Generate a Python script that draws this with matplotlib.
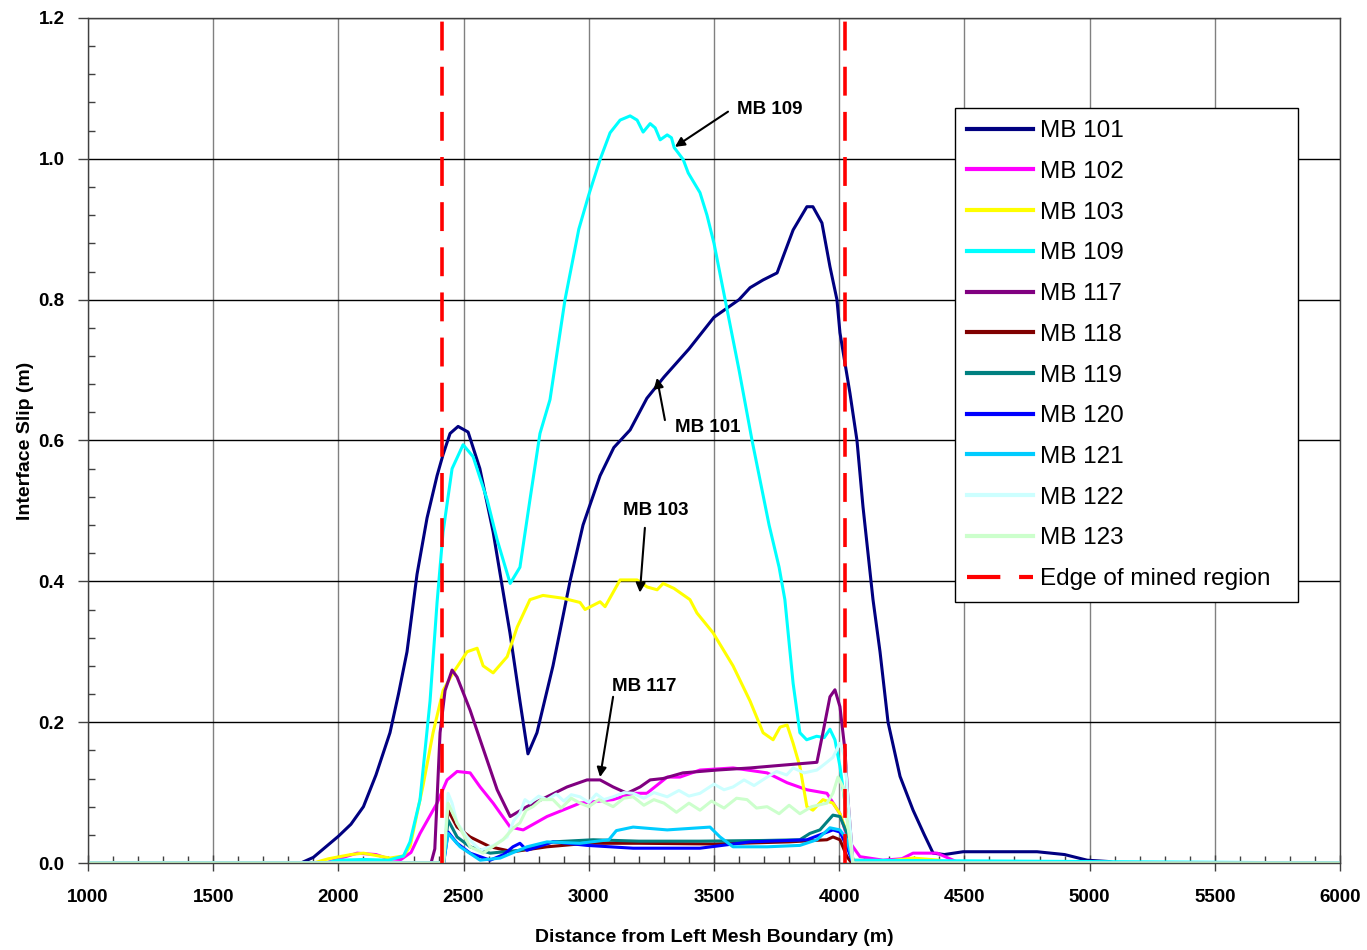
import matplotlib
matplotlib.use("Agg")
import matplotlib.pyplot as plt
from matplotlib.ticker import MultipleLocator

# ---------------- data ----------------
mb101_x = [1000, 1850, 1900, 1940, 2000, 2050, 2100, 2150, 2206, 2240, 2274, 2314, 2354, 2394, 2418, 2446, 2478,
           2518, 2565, 2618, 2685, 2725, 2757, 2793, 2857, 2925, 2977, 3045, 3100, 3165, 3232, 3300, 3400,
           3500, 3600, 3644, 3696, 3752, 3776, 3816, 3871, 3895, 3931, 3963, 3991, 4003, 4043, 4071, 4095,
           4135, 4163, 4195, 4243, 4295, 4340, 4375, 4420, 4495, 4790, 4900, 4990, 5080, 5100, 6000]
mb101_y = [0, 0, 0.008, 0.02, 0.038, 0.055, 0.08, 0.125, 0.185, 0.24, 0.30, 0.41, 0.49, 0.55, 0.58, 0.61, 0.62,
           0.612, 0.56, 0.47, 0.327, 0.23, 0.155, 0.185, 0.28, 0.40, 0.48, 0.55, 0.59, 0.615, 0.66, 0.69, 0.73,
           0.775, 0.80, 0.817, 0.828, 0.838, 0.861, 0.899, 0.932, 0.932, 0.909, 0.847, 0.80, 0.753, 0.667, 0.60, 0.506,
           0.374, 0.30, 0.20, 0.123, 0.075, 0.04, 0.014, 0.012, 0.016, 0.016, 0.012, 0.004, 0.002, 0, 0]

mb102_x = [1000, 1950, 2000, 2075, 2150, 2200, 2250, 2290, 2326, 2394, 2434, 2474, 2526, 2566, 2618, 2686,
           2738, 2833, 2965, 3097, 3177, 3232, 3313, 3364, 3444, 3576, 3712, 3792, 3871, 3951, 4003, 4035,
           4083, 4175, 4250, 4295, 4391, 4455, 4480, 6000]
mb102_y = [0, 0, 0.006, 0.014, 0.012, 0.006, 0.005, 0.015, 0.042, 0.085, 0.118, 0.13, 0.128, 0.108, 0.085, 0.051,
           0.047, 0.066, 0.085, 0.09, 0.099, 0.099, 0.122, 0.122, 0.132, 0.135, 0.128, 0.114, 0.104, 0.099, 0.07, 0.033,
           0.009, 0.004, 0.006, 0.014, 0.014, 0.004, 0, 0]

mb103_x = [1000, 1900, 1960, 2050, 2100, 2206, 2260, 2286, 2338, 2378, 2418, 2458, 2514, 2554, 2578, 2618,
           2674, 2714, 2765, 2817, 2897, 2965, 2985, 3045, 3065, 3125, 3193, 3233, 3273, 3297, 3340, 3404,
           3432, 3496, 3576, 3644, 3696, 3736, 3764, 3792, 3816, 3843, 3871, 3895, 3935, 3975, 4003, 4031,
           4055, 4200, 4295, 4400, 4430, 6000]
mb103_y = [0, 0, 0.006, 0.012, 0.014, 0.007, 0.01, 0.023, 0.11, 0.185, 0.245, 0.27, 0.30, 0.305, 0.28, 0.27,
           0.293, 0.335, 0.374, 0.38, 0.376, 0.37, 0.36, 0.371, 0.364, 0.402, 0.402, 0.392, 0.388, 0.397, 0.39, 0.374,
           0.355, 0.327, 0.28, 0.23, 0.185, 0.175, 0.193, 0.196, 0.17, 0.137, 0.08, 0.075, 0.09, 0.085, 0.07, 0.042,
           0.004, 0.003, 0.007, 0.004, 0, 0]

mb109_x = [1000, 1950, 2000, 2100, 2200, 2260, 2286, 2326, 2366, 2394, 2418, 2454, 2498, 2538, 2594, 2634,
           2686, 2725, 2765, 2805, 2845, 2905, 2960, 3000, 3045, 3085, 3125, 3165, 3193, 3217, 3245, 3265,
           3285, 3313, 3330, 3341, 3377, 3397, 3444, 3472, 3500, 3550, 3600, 3652, 3720, 3760, 3783, 3816,
           3843, 3870, 3910, 3940, 3963, 3983, 4003, 4031, 4055, 6000]
mb109_y = [0, 0, 0.004, 0.005, 0.004, 0.01, 0.03, 0.09, 0.23, 0.37, 0.47, 0.56, 0.594, 0.577, 0.516, 0.459,
           0.397, 0.42, 0.516, 0.61, 0.658, 0.80, 0.90, 0.949, 0.999, 1.037, 1.055, 1.061, 1.055, 1.038, 1.05, 1.044,
           1.027, 1.034, 1.03, 1.016, 0.999, 0.98, 0.952, 0.92, 0.88, 0.79, 0.70, 0.60, 0.48, 0.42, 0.374, 0.255,
           0.185, 0.175, 0.18, 0.178, 0.19, 0.175, 0.137, 0.066, 0.004, 0]

mb117_x = [1000, 2370, 2385, 2394, 2406, 2426, 2454, 2474, 2526, 2566, 2634, 2686, 2753, 2833, 2913, 2993,
           3045, 3097, 3153, 3205, 3245, 3297, 3376, 3512, 3644, 3776, 3911, 3935, 3963, 3983, 4003, 4023,
           4035, 4055, 6000]
mb117_y = [0, 0, 0.02, 0.09, 0.185, 0.245, 0.274, 0.264, 0.217, 0.175, 0.104, 0.066, 0.08, 0.094, 0.108, 0.118,
           0.118, 0.108, 0.099, 0.108, 0.118, 0.12, 0.128, 0.132, 0.135, 0.139, 0.143, 0.185, 0.236, 0.246, 0.222, 0.16,
           0.09, 0, 0]

mb118_x = [1000, 2420, 2438, 2474, 2526, 2606, 2697, 2833, 2993, 3200, 3500, 3800, 3951, 3975, 4003, 4031, 4050, 6000]
mb118_y = [0, 0, 0.075, 0.051, 0.037, 0.023, 0.016, 0.023, 0.028, 0.028, 0.027, 0.03, 0.033, 0.037, 0.033, 0.009, 0, 0]

mb119_x = [1000, 2420, 2438, 2474, 2526, 2606, 2725, 2857, 3017, 3200, 3444, 3700, 3843, 3883, 3923, 3975,
           4003, 4031, 4055, 6000]
mb119_y = [0, 0, 0.061, 0.037, 0.023, 0.014, 0.018, 0.03, 0.033, 0.031, 0.031, 0.032, 0.033, 0.042, 0.047, 0.068,
           0.066, 0.042, 0, 0]

mb120_x = [1000, 2420, 2438, 2474, 2526, 2606, 2660, 2697, 2725, 2753, 2857, 2993, 3177, 3444, 3644, 3871,
           3975, 4003, 4031, 4055, 6000]
mb120_y = [0, 0, 0.044, 0.028, 0.014, 0.004, 0.012, 0.023, 0.028, 0.018, 0.03, 0.025, 0.021, 0.021, 0.03, 0.033,
           0.047, 0.044, 0.023, 0, 0]

mb121_x = [1000, 2420, 2438, 2486, 2566, 2646, 2753, 2833, 2965, 3080, 3110, 3177, 3313, 3484, 3524, 3576,
           3712, 3843, 3911, 3963, 4003, 4031, 4055, 6000]
mb121_y = [0, 0, 0.042, 0.023, 0.004, 0.007, 0.023, 0.03, 0.028, 0.033, 0.046, 0.051, 0.047, 0.051, 0.037, 0.023,
           0.023, 0.025, 0.033, 0.05, 0.047, 0.033, 0, 0]

mb122_x = [1000, 2420, 2438, 2454, 2474, 2514, 2566, 2620, 2674, 2700, 2725, 2745, 2765, 2800, 2833, 2870,
           2900, 2930, 2965, 3000, 3030, 3060, 3097, 3140, 3177, 3220, 3260, 3313, 3360, 3400, 3444, 3500,
           3540, 3576, 3620, 3660, 3712, 3750, 3790, 3816, 3860, 3911, 3940, 3975, 4003, 4023, 4035, 4055, 6000]
mb122_y = [0, 0, 0.099, 0.085, 0.057, 0.037, 0.018, 0.025, 0.037, 0.06, 0.071, 0.09, 0.085, 0.095, 0.09, 0.098,
           0.088, 0.097, 0.094, 0.086, 0.098, 0.09, 0.094, 0.1, 0.099, 0.092, 0.1, 0.094, 0.103, 0.095, 0.099, 0.112,
           0.104, 0.108, 0.118, 0.11, 0.122, 0.13, 0.125, 0.135, 0.128, 0.132, 0.14, 0.15, 0.17, 0.15, 0.09, 0, 0]

mb123_x = [1000, 2420, 2438, 2474, 2526, 2578, 2657, 2700, 2725, 2750, 2777, 2810, 2857, 2890, 2930, 2965,
           3000, 3040, 3097, 3140, 3177, 3220, 3260, 3300, 3350, 3400, 3444, 3490, 3540, 3590, 3632, 3670,
           3712, 3760, 3800, 3843, 3890, 3951, 3975, 3995, 4015, 4035, 4055, 6000]
mb123_y = [0, 0, 0.085, 0.057, 0.023, 0.014, 0.033, 0.05, 0.057, 0.075, 0.08, 0.09, 0.09, 0.078, 0.092, 0.085,
           0.08, 0.09, 0.08, 0.092, 0.094, 0.082, 0.09, 0.085, 0.072, 0.085, 0.075, 0.088, 0.078, 0.092, 0.09, 0.078,
           0.08, 0.07, 0.082, 0.07, 0.08, 0.085, 0.099, 0.122, 0.108, 0.051, 0, 0]

edge_x = [2415, 4025]

series_labels = ["MB 101", "MB 102", "MB 103", "MB 109", "MB 117", "MB 118",
                 "MB 119", "MB 120", "MB 121", "MB 122", "MB 123"]
series_colors = ["#000080", "#FF00FF", "#FFFF00", "#00FFFF", "#800080", "#800000",
                 "#008080", "#0000FF", "#00CCFF", "#CCFFFF", "#CCFFCC"]
series_x = [mb101_x, mb102_x, mb103_x, mb109_x, mb117_x, mb118_x, mb119_x, mb120_x, mb121_x, mb122_x, mb123_x]
series_y = [mb101_y, mb102_y, mb103_y, mb109_y, mb117_y, mb118_y, mb119_y, mb120_y, mb121_y, mb122_y, mb123_y]

x_ticks = [1000, 1500, 2000, 2500, 3000, 3500, 4000, 4500, 5000, 5500, 6000]
y_ticks = [0.0, 0.2, 0.4, 0.6, 0.8, 1.0, 1.2]

# ---------------- plot ----------------
plt.rcParams['font.family'] = ['Liberation Sans', 'DejaVu Sans']

fig = plt.figure(figsize=(13.67, 9.5), dpi=100)
ax = fig.add_axes([88 / 1367, 1 - 863 / 950, (1340 - 88) / 1367, (863 - 18) / 950])

for xs, ys, lab, col in zip(series_x, series_y, series_labels, series_colors):
    ax.plot(xs, ys, color=col, lw=2.2, label=lab, solid_joinstyle='round')

for i, ex in enumerate(edge_x):
    ax.axvline(ex, color="#FF0000", lw=2.6, dashes=(8, 4.5),
               label="Edge of mined region" if i == 0 else None, zorder=5)

ax.set_xlim(1000, 6000)
ax.set_ylim(0, 1.2)
ax.set_xticks(x_ticks)
ax.set_yticks(y_ticks)
ax.set_xticklabels([str(v) for v in x_ticks])
ax.set_yticklabels([f"{v:.1f}" for v in y_ticks])
ax.xaxis.set_minor_locator(MultipleLocator(100))
ax.yaxis.set_minor_locator(MultipleLocator(0.04))

ax.grid(True, axis='x', which='major', color='#808080', lw=1.0)
ax.grid(True, axis='y', which='major', color='#000000', lw=1.0)
ax.set_axisbelow(True)

for s in ax.spines.values():
    s.set_color('#404040')
    s.set_linewidth(1.0)

ax.tick_params(axis='x', which='major', direction='inout', length=12, width=1, color='#404040', pad=13)
ax.tick_params(axis='x', which='minor', direction='in', length=5, width=1, color='#404040')
ax.tick_params(axis='y', which='major', direction='out', length=7, width=1, color='#404040', pad=10)
ax.tick_params(axis='y', which='minor', direction='in', length=5, width=1, color='#404040')
for lab in ax.get_xticklabels() + ax.get_yticklabels():
    lab.set_fontweight('bold')
    lab.set_fontsize(13.5)

ax.set_xlabel("Distance from Left Mesh Boundary (m)", fontsize=14, fontweight='bold', labelpad=16)
ax.set_ylabel("Interface Slip (m)", fontsize=14, fontweight='bold', labelpad=3)

arrowprops = dict(arrowstyle='-|>', color='black', lw=1.5, mutation_scale=14, shrinkA=0, shrinkB=0)
ann_kw = dict(fontsize=13.5, fontweight='bold', ha='center', va='center')
ax.annotate("", xy=(3344, 1.017), xytext=(3556, 1.067), arrowprops=arrowprops)
ax.text(3724, 1.070, "MB 109", **ann_kw)
ax.annotate("", xy=(3272, 0.689), xytext=(3304, 0.629), arrowprops=arrowprops)
ax.text(3476, 0.618, "MB 101", **ann_kw)
ax.annotate("", xy=(3204, 0.384), xytext=(3224, 0.476), arrowprops=arrowprops)
ax.text(3268, 0.500, "MB 103", **ann_kw)
ax.annotate("", xy=(3045, 0.122), xytext=(3097, 0.236), arrowprops=arrowprops)
ax.text(3220, 0.251, "MB 117", **ann_kw)

leg = fig.legend(loc='upper left', bbox_to_anchor=(955 / 1367, 1 - 108 / 950 - 0.01, (1298 - 955) / 1367, 0.01),
                 mode='expand', fontsize=17.5, frameon=True, fancybox=False, framealpha=1,
                 edgecolor='black', handlelength=2.7, handletextpad=0.3, labelspacing=0.77,
                 borderpad=0.5, borderaxespad=0)
leg.get_frame().set_linewidth(1.0)
for h in leg.get_lines():
    h.set_linewidth(3)

fig.savefig("out.png", dpi=100)
